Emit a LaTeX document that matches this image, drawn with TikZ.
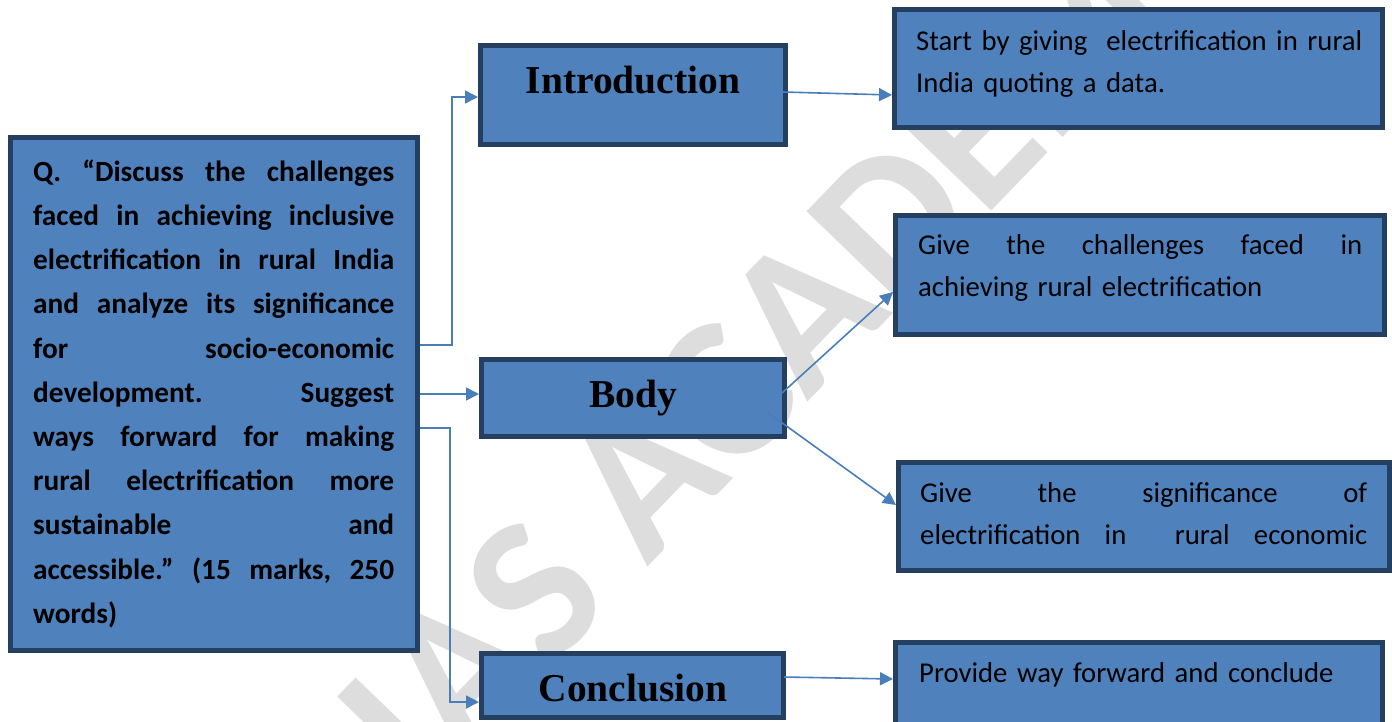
\documentclass[tikz,border=0pt]{standalone}
\usepackage{fontspec}
\setmainfont{Carlito}
\newfontfamily\headfont{Liberation Serif}
\usetikzlibrary{arrows.meta,calc}
\definecolor{boxfill}{RGB}{79,129,189}
\definecolor{boxline}{RGB}{36,63,96}
\definecolor{linkc}{RGB}{74,126,187}
\definecolor{wmgray}{RGB}{221,221,221}
\newlength{\qw}\setlength{\qw}{361pt}
% a justified line: words separated by \hfill
\newcommand{\jline}[2]{\makebox[#1]{#2}}

\begin{document}
\begin{tikzpicture}[x=1pt,y=-1pt,
  panel/.style={draw=boxline, fill=boxfill, line width=5pt, inner sep=0pt},
  head/.style={font=\headfont\bfseries\fontsize{39.5}{39.5}\selectfont, inner sep=0pt, anchor=base},
  qtext/.style={font=\bfseries\fontsize{29.3}{44.2}\selectfont, text width=361pt, align=left, inner sep=0pt, anchor=north west},
  note/.style={font=\fontsize{28.7}{42}\selectfont, align=left, inner sep=0pt, anchor=north west},
  link/.style={draw=linkc, line width=1.6pt, -{Triangle[length=13pt,width=13pt]}},
  wm/.style={text=wmgray, font=\bfseries\fontsize{205}{205}\selectfont, inner sep=0pt}
]
\path[use as bounding box] (0,0) rectangle (1392,721);
\clip (0,0) rectangle (1392,721);
\fill[white] (0,0) rectangle (1392,721);

% watermark behind everything
\node[wm, rotate=46] (wmark) at (790,325) {IAS ACADEMY};

% boxes
\node[panel, minimum width=407pt, minimum height=513pt] (q) at (214,394) {};
\node[panel, minimum width=305pt, minimum height=99pt] (intro) at (633,95) {};
\node[panel, minimum width=303pt, minimum height=77pt] (body) at (633,398) {};
\node[panel, minimum width=302pt, minimum height=64pt] (concl) at (632.5,685.5) {};
\node[panel, minimum width=488pt, minimum height=118pt] (r1) at (1138.5,68.5) {};
\node[panel, minimum width=489pt, minimum height=119pt] (r2) at (1140,275) {};
\node[panel, minimum width=491pt, minimum height=108pt] (r3) at (1144,516.5) {};
\node[panel, minimum width=487pt, minimum height=130pt] (r4) at (1139,707.5) {};

% headings
\node[head] (introT) at (633,93) {Introduction};
\node[head] (bodyT) at (633,407) {Body};
\node[head] (conclT) at (633,701) {Conclusion};

% question text, justified line by line
\node[qtext] (qT) at (33,151) {%
\jline{\qw}{\rule{0pt}{30pt}Q.\hfill “Discuss\hfill the\hfill challenges}\\
\jline{\qw}{faced\hfill in\hfill achieving\hfill inclusive}\\
\jline{\qw}{electrification\hfill in\hfill rural\hfill India}\\
\jline{\qw}{and\hfill analyze\hfill its\hfill significance}\\
\jline{\qw}{for\hfill socio-economic}\\
\jline{\qw}{development.\hfill Suggest}\\
\jline{\qw}{ways\hfill forward\hfill for\hfill making}\\
\jline{\qw}{rural\hfill electrification\hfill more}\\
\jline{\qw}{sustainable\hfill and}\\
\jline{\qw}{accessible.”\hfill (15\hfill marks,\hfill 250}\\
words)};

% right-hand notes
\node[note, text width=460pt] (r1T) at (916,20) {\rule{0pt}{30pt}Start by giving\ \ electrification in rural\\India quoting a data.};
\node[note, text width=444pt] (r2T) at (918,224) {\jline{444pt}{\rule{0pt}{30pt}Give\hfill the\hfill challenges\hfill faced\hfill in}\\achieving rural electrification};
\node[note, text width=447pt] (r3T) at (920,472) {\jline{447pt}{\rule{0pt}{30pt}Give\hfill the\hfill significance\hfill of}\\\jline{447pt}{electrification\hfill in\hfill\hfill rural\hfill economic}};
\node[note, text width=460pt] (r4T) at (919,652) {\rule{0pt}{30pt}Provide way forward and conclude};

% connectors
\draw[link] (q.east |- 0,345) -- (452,345) |- (intro.west |- 0,97);
\draw[link] (q.east |- 0,394) -- (body.west |- 0,394);
\draw[link] (q.east |- 0,428) -- (450,428) |- (concl.west |- 0,702);
\draw[link] ($(intro.east |- 0,92)+(-5,0)$) -- (r1.west |- 0,95);
\draw[link] ($(body.east)+(-5,-5)$) -- (r2.west |- 0,292);
\draw[link] ($(body.east)+(-20,14)$) -- (r3.west |- 0,505);
\draw[link] ($(concl.east |- 0,677)+(-2,0)$) -- (r4.west |- 0,679);
\end{tikzpicture}
\end{document}
